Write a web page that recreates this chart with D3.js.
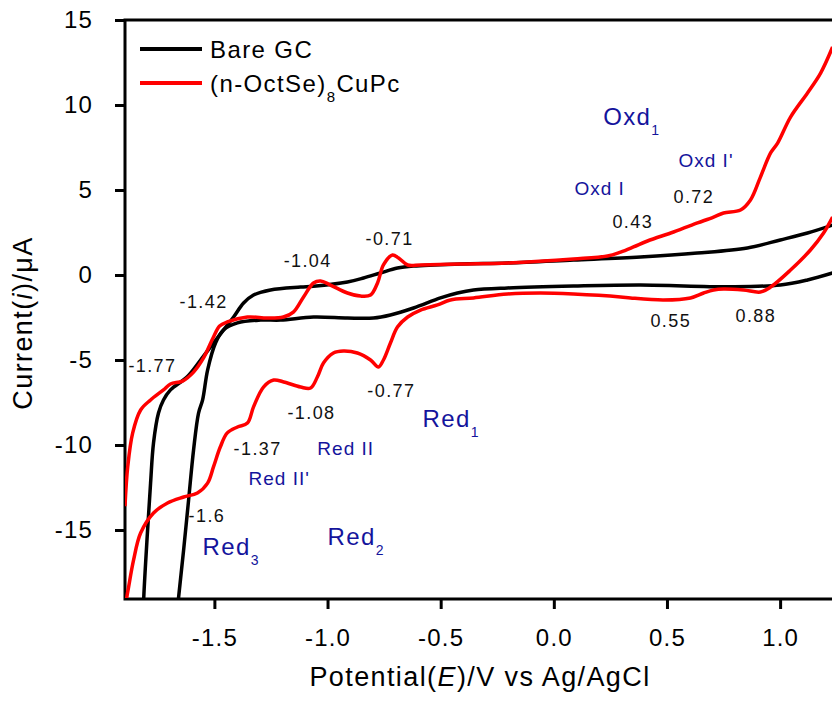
<!DOCTYPE html>
<html>
<head>
<meta charset="utf-8">
<script src="https://cdn.jsdelivr.net/npm/d3@7"></script>
<style>
  body { margin: 0; background: #fff; }
  svg text { font-family: 'Liberation Sans', Arial, sans-serif; }
  .axis text { font-size: 24px; letter-spacing: 1.2px; fill: #000; }
  .axis line { stroke: #000; stroke-width: 3; }
  .axis path { display: none; }
  .frame { stroke: #000; stroke-width: 3; fill: none; }
  .num { font-size: 18px; letter-spacing: 1.4px; fill: #111; }
  .blue { fill: #14149c; }
</style>
</head>
<body>
<svg class="cv"></svg>
<script>
//DATA
const xTicks = [-1.5, -1.0, -0.5, 0.0, 0.5, 1.0];
const yTicks = [-15, -10, -5, 0, 5, 10, 15];

// Bare GC: cathodic sweep (right to left) and anodic return (left to right), [E (V), I (uA)]
const bareCathodic = [
  [1.232, 0.12], [1.121, -0.29], [1.001, -0.59], [0.781, -0.69], [0.383, -0.59],
  [0.087, -0.65], [-0.205, -0.76], [-0.355, -0.88], [-0.426, -1.06], [-0.501, -1.35],
  [-0.620, -1.94], [-0.722, -2.35], [-0.797, -2.53], [-0.912, -2.53], [-1.062, -2.47],
  [-1.208, -2.65], [-1.296, -2.65], [-1.398, -2.82], [-1.460, -3.24], [-1.495, -4.0],
  [-1.530, -5.59], [-1.552, -7.35], [-1.570, -8.12], [-1.592, -10.29], [-1.614, -13.24],
  [-1.636, -16.18], [-1.658, -18.94], [-1.667, -20.3]
];
const bareAnodic = [
  [-1.815, -20.3], [-1.812, -18.94], [-1.796, -15.18], [-1.782, -12.24], [-1.769, -9.88],
  [-1.747, -8.12], [-1.725, -7.35], [-1.694, -6.76], [-1.620, -5.98], [-1.561, -5.0],
  [-1.504, -4.0], [-1.460, -3.24], [-1.415, -2.47], [-1.371, -1.65], [-1.327, -1.18],
  [-1.252, -0.88], [-1.119, -0.71], [-1.062, -0.66], [-0.912, -0.41], [-0.841, -0.18],
  [-0.766, 0.12], [-0.691, 0.41], [-0.620, 0.53], [-0.412, 0.65], [-0.205, 0.71],
  [0.087, 0.88], [0.383, 1.06], [0.634, 1.29], [0.855, 1.59], [1.001, 2.06],
  [1.121, 2.47], [1.232, 2.94]
];

// (n-OctSe)8CuPc
const cupcCathodic = [
  [1.232, 3.41], [1.192, 2.47], [1.134, 1.47], [1.046, 0.29], [0.958, -0.71],
  [0.913, -1.0], [0.838, -0.88], [0.750, -0.82], [0.706, -0.88], [0.662, -1.06],
  [0.604, -1.35], [0.485, -1.47], [0.339, -1.35], [0.295, -1.29], [0.087, -1.12],
  [-0.059, -1.06], [-0.205, -1.12], [-0.355, -1.35], [-0.457, -1.47], [-0.514, -1.76],
  [-0.589, -2.06], [-0.646, -2.47], [-0.691, -3.06], [-0.722, -4.0], [-0.753, -5.0],
  [-0.775, -5.41], [-0.810, -5.0], [-0.868, -4.59], [-0.930, -4.47], [-0.974, -4.59],
  [-1.018, -5.18], [-1.045, -6.0], [-1.075, -6.65], [-1.119, -6.59], [-1.194, -6.29],
  [-1.238, -6.18], [-1.283, -6.59], [-1.327, -7.76], [-1.354, -8.71], [-1.398, -8.94],
  [-1.443, -9.29], [-1.474, -10.12], [-1.504, -11.29], [-1.530, -12.24], [-1.575, -12.82],
  [-1.636, -13.06], [-1.707, -13.41], [-1.769, -14.0], [-1.826, -15.18], [-1.857, -16.76],
  [-1.879, -18.35], [-1.888, -19.06], [-1.892, -20.0]
];
const cupcAnodic = [
  [-1.895, -13.6], [-1.883, -11.29], [-1.861, -9.29], [-1.826, -7.94], [-1.782, -7.35],
  [-1.725, -6.76], [-1.694, -6.41], [-1.641, -6.24], [-1.592, -5.71], [-1.548, -4.88],
  [-1.504, -3.65], [-1.477, -3.0], [-1.443, -2.76], [-1.354, -2.47], [-1.266, -2.53],
  [-1.195, -2.47], [-1.151, -2.18], [-1.106, -1.29], [-1.062, -0.47], [-1.031, -0.35],
  [-0.987, -0.59], [-0.912, -1.06], [-0.854, -1.24], [-0.810, -1.18], [-0.779, -0.47],
  [-0.753, 0.59], [-0.713, 1.18], [-0.686, 1.0], [-0.646, 0.59], [-0.589, 0.59],
  [-0.412, 0.65], [-0.205, 0.71], [0.087, 0.94], [0.237, 1.12], [0.295, 1.35],
  [0.352, 1.65], [0.414, 2.0], [0.529, 2.53], [0.635, 3.06], [0.706, 3.41],
  [0.750, 3.65], [0.825, 3.82], [0.869, 4.41], [0.913, 5.76], [0.958, 7.18],
  [0.989, 7.76], [1.046, 9.29], [1.121, 10.71], [1.179, 11.88], [1.232, 13.41]
];

// peak potentials, anchored at [E, I] in data units
const peakLabels = [
  ['-0.71', -0.832, 1.76], ['-1.04', -1.194, 0.47], ['-1.42', -1.654, -1.94],
  ['-1.77', -1.880, -5.71], ['-1.37', -1.415, -10.59], ['-1.08', -1.177, -8.47],
  ['-0.77', -0.824, -7.18], ['-1.6', -1.614, -14.53], ['0.43', 0.259, 2.76],
  ['0.72', 0.529, 4.24], ['0.55', 0.427, -3.06], ['0.88', 0.803, -2.76]
];
// process labels: [main, subscript, E, I, big]
const processLabels = [
  ['Oxd', '1', 0.218, 8.82, true], ['Oxd I', '', 0.091, 4.71, false],
  ["Oxd I'", '', 0.551, 6.35, false], ['Red', '1', -0.580, -8.94, true],
  ['Red II', '', -1.045, -10.59, false], ["Red II'", '', -1.349, -12.35, false],
  ['Red', '3', -1.552, -16.47, true], ['Red', '2', -1.000, -15.88, true]
];

//CANVAS
const size = {w: 832, h: 701};
const plot = {left: 125, top: 20, right: 848, bottom: 598};

const svg = d3.select('svg.cv').attr('width', size.w).attr('height', size.h);

const x = d3.scaleLinear().domain([-1.895, 1.3]).range([plot.left, plot.right]);
const y = d3.scaleLinear().domain([-19, 15]).range([plot.bottom, plot.top]);

//AXES
svg.append('g')
  .attr('class', 'axis')
  .attr('transform', `translate(${plot.left},0)`)
  .call(d3.axisLeft(y).tickValues(yTicks).tickSize(10).tickPadding(22).tickFormat(d => d));

svg.append('g')
  .attr('class', 'axis')
  .attr('transform', `translate(0,${plot.bottom + 1})`)
  .call(d3.axisBottom(x).tickValues(xTicks).tickSize(10).tickPadding(20).tickFormat(d => d.toFixed(1)));

svg.append('path')
  .attr('class', 'frame')
  .attr('d', `M${size.w + 5},${plot.top}H${plot.left}V${plot.bottom + 1}H${size.w + 5}`);

//CURVES
svg.append('clipPath').attr('id', 'clip')
  .append('rect')
  .attr('x', plot.left).attr('y', plot.top)
  .attr('width', plot.right - plot.left).attr('height', plot.bottom - plot.top);

const line = d3.line()
  .x(d => x(d[0]))
  .y(d => y(d[1]))
  .curve(d3.curveCatmullRom.alpha(0.5));

const curves = svg.append('g').attr('clip-path', 'url(#clip)');
[[bareCathodic, '#000'], [bareAnodic, '#000'], [cupcCathodic, '#ff0000'], [cupcAnodic, '#ff0000']]
  .forEach(([data, color]) => {
    curves.append('path')
      .datum(data)
      .attr('d', line)
      .attr('fill', 'none')
      .attr('stroke', color)
      .attr('stroke-width', 3.5)
      .attr('stroke-linejoin', 'round');
  });

//ANNOTATIONS
svg.append('g').selectAll('text')
  .data(peakLabels)
  .join('text')
  .attr('class', 'num')
  .attr('x', d => x(d[1]))
  .attr('y', d => y(d[2]))
  .text(d => d[0]);

processLabels.forEach(d => {
  const t = svg.append('text')
    .attr('class', 'blue')
    .attr('x', x(d[2]))
    .attr('y', y(d[3]))
    .style('font-size', d[4] ? '24px' : '19px')
    .style('letter-spacing', d[4] ? '1.4px' : '1px')
    .text(d[0]);
  if (d[1]) {
    t.append('tspan')
      .attr('dy', 10)
      .style('font-size', '14px')
      .text(d[1]);
  }
});

//LEGEND
const legend = svg.append('g').attr('transform', 'translate(140,0)');
legend.append('line').attr('x1', 0).attr('x2', 62).attr('y1', 49).attr('y2', 49)
  .attr('stroke', '#000').attr('stroke-width', 4);
legend.append('line').attr('x1', 0).attr('x2', 62).attr('y1', 83).attr('y2', 83)
  .attr('stroke', '#ff0000').attr('stroke-width', 4);
legend.append('text').attr('x', 70).attr('y', 58)
  .style('font-size', '24px').style('letter-spacing', '1.4px')
  .text('Bare GC');
const lt = legend.append('text').attr('x', 70).attr('y', 92)
  .style('font-size', '24px').style('letter-spacing', '1.4px');
lt.append('tspan').text('(n-OctSe)');
lt.append('tspan').attr('dy', 10).style('font-size', '15px').text('8');
lt.append('tspan').attr('dy', -10).text('CuPc');

//TITLES
const xt = svg.append('text')
  .attr('x', 480).attr('y', 686)
  .attr('text-anchor', 'middle')
  .style('font-size', '27px').style('letter-spacing', '1.4px');
xt.append('tspan').text('Potential(');
xt.append('tspan').style('font-style', 'italic').text('E');
xt.append('tspan').text(')/V vs Ag/AgCl');

const yt = svg.append('text')
  .attr('transform', 'translate(32,323) rotate(-90)')
  .attr('text-anchor', 'middle')
  .style('font-size', '27px').style('letter-spacing', '1.4px');
yt.append('tspan').text('Current(');
yt.append('tspan').style('font-style', 'italic').text('i');
yt.append('tspan').text(')/\u03bcA');
</script>
</body>
</html>
